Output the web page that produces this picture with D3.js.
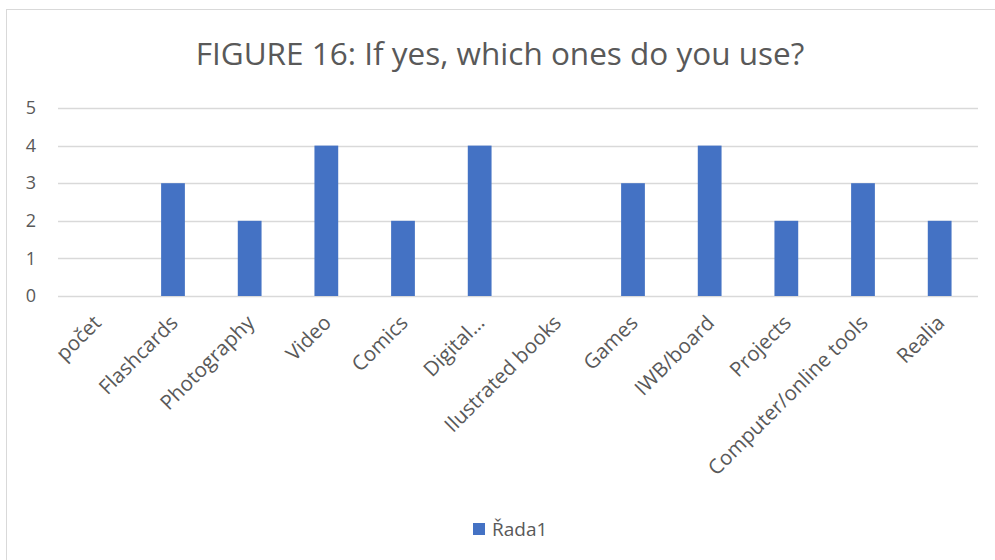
<!DOCTYPE html>
<html>
<head>
<meta charset="utf-8">
<script src="https://cdn.jsdelivr.net/npm/d3@7"></script>
<style>
  html, body { margin: 0; padding: 0; background: #fff; }
  svg { display: block; }
  text { font-family: "Open Sans", sans-serif; fill: #595959; }
</style>
</head>
<body>
<svg id="chart" width="995" height="560"></svg>
<script>
const categories = ["počet", "Flashcards", "Photography", "Video", "Comics", "Digital…", "Ilustrated books", "Games", "IWB/board", "Projects", "Computer/online tools", "Realia"];
const values = [0, 3, 2, 4, 2, 4, 0, 3, 4, 2, 3, 2];
const yTicks = [0, 1, 2, 3, 4, 5];
const titleText = "FIGURE 16: If yes, which ones do you use?";
const seriesName = "Řada1";

const svg = d3.select("#chart");
const W = 995, H = 560;
const margin = { left: 58, right: 17, top: 108, bottom: 264 };

// chart border
svg.append("rect").attr("x", 6.5).attr("y", 9.5).attr("width", W + 10).attr("height", H + 10)
  .attr("fill", "none").attr("stroke", "#d9d9d9").attr("stroke-width", 1);

const x = d3.scaleBand().domain(categories).range([margin.left, W - margin.right]).paddingInner(0.69).paddingOuter(0.345);
const y = d3.scaleLinear().domain([0, 5]).range([H - margin.bottom, margin.top]);

// gridlines
svg.append("g").selectAll("line").data(yTicks).join("line")
  .attr("x1", margin.left).attr("x2", W - margin.right)
  .attr("y1", d => Math.round(y(d)) + 0.5).attr("y2", d => Math.round(y(d)) + 0.5)
  .attr("stroke", "#d9d9d9").attr("stroke-width", 1.5);

// y axis labels
const yAxis = d3.axisLeft(y).tickValues(yTicks).tickFormat(d3.format("d")).tickSize(0).tickPadding(0);
const gy = svg.append("g").attr("transform", `translate(36,0)`).call(yAxis);
gy.select(".domain").remove();
gy.selectAll("text").attr("font-size", 18).attr("fill", "#595959").style("font-family", "'Open Sans', sans-serif");

// bars
svg.append("g").selectAll("rect").data(values).join("rect")
  .attr("x", (d, i) => x(categories[i]))
  .attr("y", d => y(d))
  .attr("width", x.bandwidth())
  .attr("height", d => y(0) - y(d))
  .attr("fill", "#4472c4");

// x labels
svg.append("g").selectAll("text").data(categories).join("text")
  .attr("transform", d => `translate(${x(d) + x.bandwidth() / 2 + 1},${y(0) + 23}) rotate(-45)`)
  .attr("text-anchor", "end")
  .attr("dy", "0.35em")
  .attr("font-size", 20.5)
  .text(d => d);

// title
svg.append("text").attr("x", 500).attr("y", 65).attr("text-anchor", "middle")
  .attr("font-size", 31.5).text(titleText);

// legend
svg.append("rect").attr("x", 473).attr("y", 523).attr("width", 12).attr("height", 12).attr("fill", "#4472c4");
svg.append("text").attr("x", 492).attr("y", 536).attr("font-size", 19).text(seriesName);
</script>
</body>
</html>
